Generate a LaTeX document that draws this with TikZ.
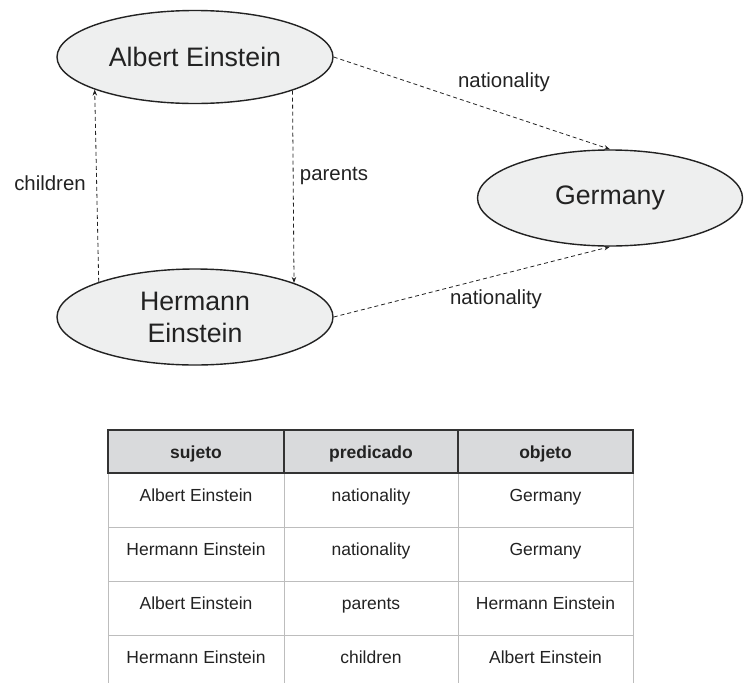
\documentclass[tikz,border=0pt]{standalone}
\usepackage{fontspec}
\setmainfont{Liberation Sans}
\usetikzlibrary{shapes.geometric,arrows.meta}
\definecolor{ink}{HTML}{222222}
\definecolor{nodefill}{HTML}{EEEFEF}
\definecolor{headfill}{HTML}{D9DADC}
\definecolor{gridgray}{HTML}{BDBDBD}
\definecolor{headline}{HTML}{333333}
\tikzset{
  entity/.style={ellipse, draw=ink, line width=1.4pt, fill=nodefill, inner sep=0pt,
    text=ink, font=\fontsize{26.7}{32}\selectfont, align=center},
  rel/.style={draw=ink, line width=0.8pt, dash pattern=on 4pt off 3pt,
    -{Stealth[length=6pt,width=4.5pt]}},
  rellabel/.style={text=ink, font=\fontsize{20.4}{24}\selectfont, inner sep=0pt},
  headcell/.style={text=ink, font=\fontsize{17.5}{20}\selectfont\bfseries, inner sep=0pt, anchor=base},
  bodycell/.style={text=ink, font=\fontsize{17.5}{20}\selectfont, inner sep=0pt, anchor=base},
}
\begin{document}
\begin{tikzpicture}[x=1pt,y=-1pt]
\useasboundingbox (0,0) rectangle (744,683);

% entities
\node[entity, minimum width=276pt, minimum height=93pt] (albert) at (195,57) {Albert Einstein};
\node[entity, minimum width=265pt, minimum height=96pt] (germany) at (610,198) {Germany};
\node[entity, minimum width=276pt, minimum height=96pt] (hermann) at (195,317) {Hermann\\Einstein};

% relations
\draw[rel] (hermann.160.6) -- (albert.198.6);
\draw[rel] (albert.341.4) -- (hermann.19.4);
\draw[rel] (albert.east) -- (germany.north);
\draw[rel] (hermann.east) -- (germany.south);

\node[rellabel] (lchildren) at (50,183) {children};
\node[rellabel] (lparents) at (334,176) {parents};
\node[rellabel] (lnat1) at (504,82) {nationality};
\node[rellabel] (lnat2) at (496,299) {nationality};

% triple table: body grid
\draw[gridgray, line width=1pt]
  (108,473) -- (108,683)
  (284,473) -- (284,683)
  (458,473) -- (458,683)
  (633,473) -- (633,683)
  (108,527) -- (633,527)
  (108,581) -- (633,581)
  (108,635) -- (633,635);
% header row
\draw[headline, line width=2pt, fill=headfill] (108,430) rectangle (633,473);
\draw[headline, line width=2pt] (284,430) -- (284,473) (458,430) -- (458,473);

\node[headcell] (h1) at (196,458) {sujeto};
\node[headcell] (h2) at (371,458) {predicado};
\node[headcell] (h3) at (545.5,458) {objeto};

\node[bodycell] (r1a) at (196,501) {Albert Einstein};
\node[bodycell] (r1b) at (371,501) {nationality};
\node[bodycell] (r1c) at (545.5,501) {Germany};

\node[bodycell] (r2a) at (196,555) {Hermann Einstein};
\node[bodycell] (r2b) at (371,555) {nationality};
\node[bodycell] (r2c) at (545.5,555) {Germany};

\node[bodycell] (r3a) at (196,609) {Albert Einstein};
\node[bodycell] (r3b) at (371,609) {parents};
\node[bodycell] (r3c) at (545.5,609) {Hermann Einstein};

\node[bodycell] (r4a) at (196,663) {Hermann Einstein};
\node[bodycell] (r4b) at (371,663) {children};
\node[bodycell] (r4c) at (545.5,663) {Albert Einstein};
\end{tikzpicture}
\end{document}
